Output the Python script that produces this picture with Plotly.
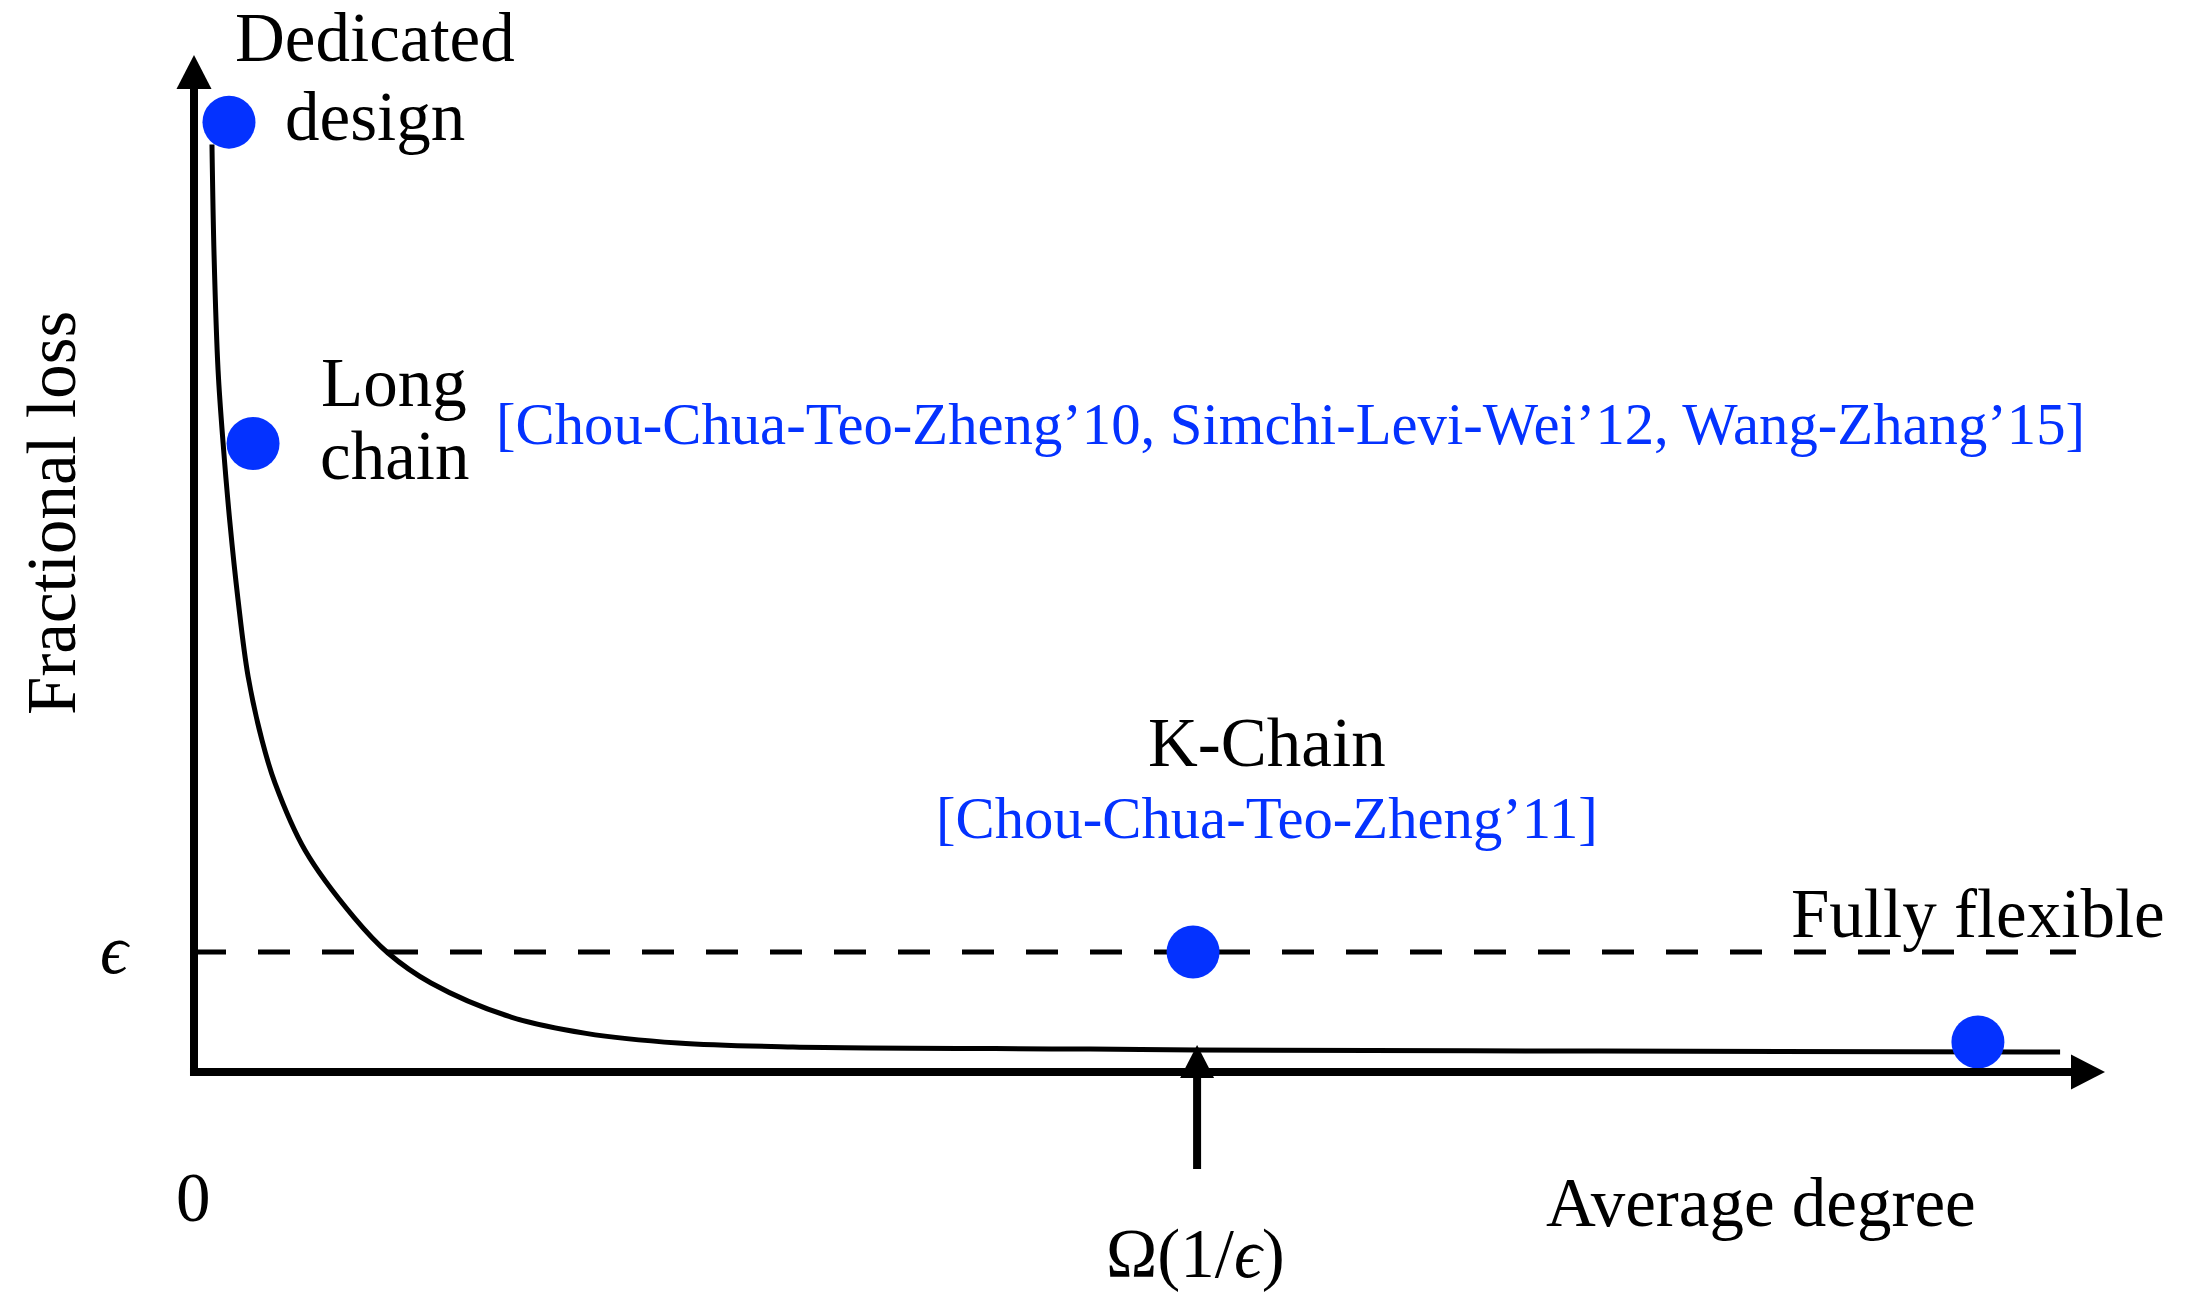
import plotly.graph_objects as go

# ---------------- data (schematic units: x-axis arrow tip = 10, y-axis arrow tip = 1) -------------
curve_x = [0.094, 0.105, 0.126, 0.152, 0.188, 0.230, 0.283, 0.356, 0.424, 0.581, 0.837,
           1.015, 1.240, 1.659, 2.051, 2.533, 3.134, 4.689, 5.249, 7.357, 9.765]
curve_y = [0.912, 0.803, 0.690, 0.619, 0.540, 0.465, 0.389, 0.326, 0.284, 0.218, 0.152,
           0.117, 0.0875, 0.054, 0.038, 0.0285, 0.0246, 0.0226, 0.0216, 0.0206, 0.0197]

design_names = ["Dedicated design", "Long chain", "K-Chain", "Fully flexible"]
design_x = [0.183, 0.309, 5.228, 9.335]
design_y = [0.934, 0.618, 0.118, 0.0295]

epsilon = 0.118          # fractional-loss level of the dashed line
eps_line_end = 9.848     # x where the dashed line stops
omega_x = 5.249          # position of the Omega(1/eps) marker
omega_tip = 0.0265       # arrow tip (just under the curve)
omega_base = -0.0954     # bottom of the marker arrow
x_axis_end = 10.0
y_axis_end = 1.0

citation_long = "[Chou-Chua-Teo-Zheng’10, Simchi-Levi-Wei’12, Wang-Zhang’15]"
citation_k = "[Chou-Chua-Teo-Zheng’11]"

# ---------------- style ----------------
BLUE = "#0432FF"
BLACK = "#000000"
FONT = "Liberation Serif"
BIG = 69
SMALL = 58.7
W, H = 2190, 1294
X_RANGE = [-1.0152, 10.4448]
Y_RANGE = [-0.2183, 1.0541]

fig = go.Figure()

# dashed epsilon line
fig.add_trace(go.Scatter(x=[0, eps_line_end], y=[epsilon, epsilon], mode="lines",
                         line=dict(color=BLACK, width=5, dash="32px,32px"),
                         hoverinfo="skip"))
# loss curve
fig.add_trace(go.Scatter(x=curve_x, y=curve_y, mode="lines",
                         line=dict(color=BLACK, width=5, shape="spline", smoothing=1.0),
                         hoverinfo="skip"))
# designs
fig.add_trace(go.Scatter(x=design_x, y=design_y, mode="markers", text=design_names,
                         marker=dict(color=BLUE, size=53, line=dict(width=0)),
                         hoverinfo="text"))

shapes = []
# y axis
shapes.append(dict(type="line", x0=0, x1=0, y0=-0.0039, y1=y_axis_end - 0.028,
                   line=dict(color=BLACK, width=8), layer="above"))
shapes.append(dict(type="path", xsizemode="pixel", ysizemode="pixel",
                   xanchor=0, yanchor=y_axis_end,
                   path="M 0 0 L -17.5 -34 L 17.5 -34 Z",
                   fillcolor=BLACK, line=dict(color=BLACK, width=0), layer="above"))
# x axis
shapes.append(dict(type="line", x0=-0.021, x1=x_axis_end - 0.15, y0=0, y1=0,
                   line=dict(color=BLACK, width=8), layer="above"))
shapes.append(dict(type="path", xsizemode="pixel", ysizemode="pixel",
                   xanchor=x_axis_end, yanchor=0,
                   path="M 0 0 L -34 17.5 L -34 -17.5 Z",
                   fillcolor=BLACK, line=dict(color=BLACK, width=0), layer="above"))
# Omega(1/eps) marker arrow
shapes.append(dict(type="line", x0=omega_x, x1=omega_x, y0=omega_base, y1=omega_tip - 0.02,
                   line=dict(color=BLACK, width=8), layer="above"))
shapes.append(dict(type="path", xsizemode="pixel", ysizemode="pixel",
                   xanchor=omega_x, yanchor=omega_tip,
                   path="M 0 0 L -17 -33 L 17 -33 Z",
                   fillcolor=BLACK, line=dict(color=BLACK, width=0), layer="above"))


def ann(text, x, y, size=BIG, color=BLACK, angle=0, xanchor="center"):
    return dict(text=text, x=x, y=y, xref="x", yref="y", showarrow=False,
                xanchor=xanchor, yanchor="middle", textangle=angle,
                font=dict(family=FONT, size=size, color=color))


annotations = [
    ann("Dedicated", 0.947, 1.0167),
    ann("design", 0.947, 0.939),
    ann("Long", 1.047, 0.6775),
    ann("chain", 1.047, 0.6057),
    ann(citation_long, 5.740, 0.637, size=SMALL, color=BLUE),
    ann("K-Chain", 5.615, 0.3235),
    ann(citation_k, 5.615, 0.2488, size=SMALL, color=BLUE),
    ann("Fully flexible", 9.335, 0.1554),
    ann("Average degree", 8.200, -0.1288),
    ann("0", -0.005, -0.1239),
    ann("Ω(1/<i>ϵ</i>)", 5.243, -0.1790),
    ann("<i>ϵ</i>", -0.413, 0.120),
    ann("Fractional loss", -0.743, 0.5497, angle=-90),
]

fig.update_layout(
    width=W, height=H,
    margin=dict(l=0, r=0, t=0, b=0, pad=0),
    paper_bgcolor="white", plot_bgcolor="white",
    showlegend=False,
    xaxis=dict(range=X_RANGE, visible=False, fixedrange=True),
    yaxis=dict(range=Y_RANGE, visible=False, fixedrange=True),
    shapes=shapes,
    annotations=annotations,
)

fig.write_html("out.html", config={"displayModeBar": False},
               post_script="document.body.style.margin='0';")
